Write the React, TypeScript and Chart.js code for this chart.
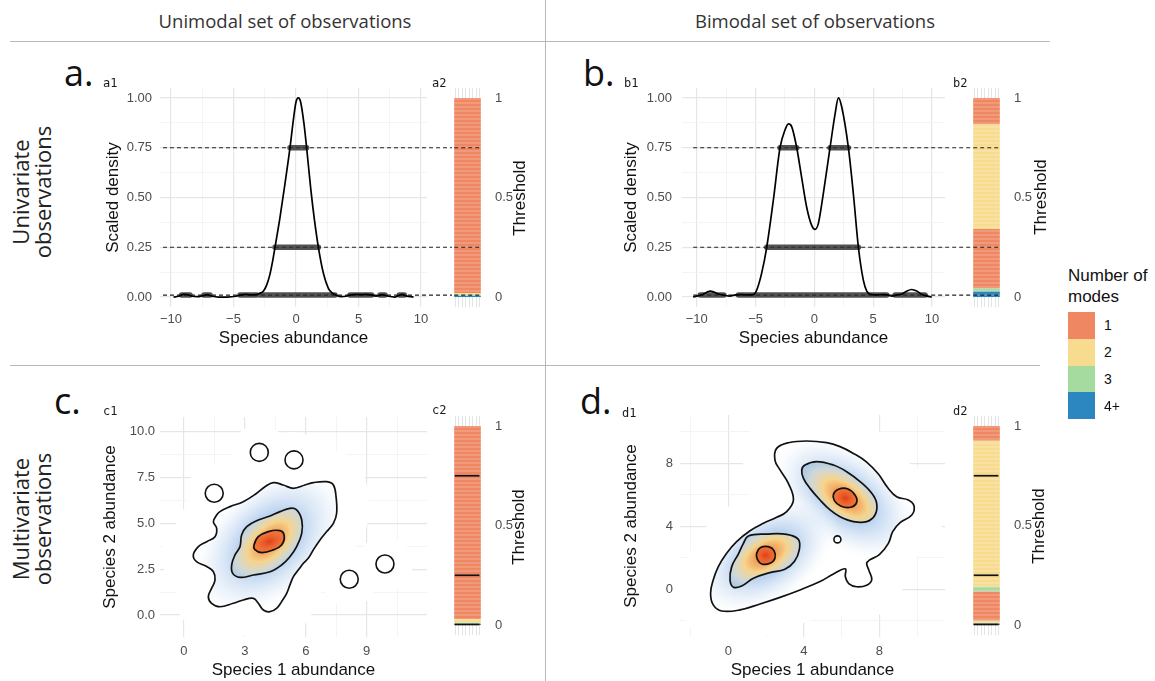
import React, { useEffect, useRef } from 'react';
import { Chart, registerables } from 'chart.js';

Chart.register(...registerables);

const SANS = "'Liberation Sans', Arial, Helvetica, sans-serif";
const HUMAN = "'Open Sans', 'Noto Sans', sans-serif";
const MONO = "'DejaVu Sans Mono', monospace";
const TICK = '#4D4D4D';
Chart.defaults.font.family = SANS;

// ---------------- legend / modes ----------------
const modeLabels = ['1', '2', '3', '4+'];
const modeColors = ['#EE8762', '#F7DC8F', '#A6DBA0', '#2C86C0'];

// ---------------- a1 : unimodal univariate density ----------------
const a1X = [-9.8, -9.4, -9.0, -8.7, -8.3, -7.9, -7.5, -7.1, -6.7, -6.2, -5.5, -4.8, -4.4, -4.0, -3.6, -3.2, -2.9, -2.6, -2.35, -2.1, -1.9, -1.68, -1.28, -0.88, -0.48, -0.21, 0.0, 0.19, 0.37, 0.64, 0.85, 1.17, 1.47, 1.79, 2.19, 2.59, 2.9, 3.2, 3.6, 4.0, 4.4, 4.8, 5.2, 5.6, 6.0, 6.4, 6.9, 7.4, 7.9, 8.2, 8.5, 8.8, 9.4];
const a1Y = [0, 0.004, 0.013, 0.012, 0.004, 0.002, 0.006, 0.012, 0.004, 0, 0, 0.004, 0.011, 0.013, 0.011, 0.012, 0.018, 0.03, 0.06, 0.11, 0.17, 0.25, 0.4, 0.57, 0.75, 0.89, 0.98, 1.0, 0.98, 0.87, 0.75, 0.55, 0.39, 0.25, 0.12, 0.044, 0.02, 0.01, 0.002, 0.004, 0.011, 0.013, 0.012, 0.013, 0.011, 0.005, 0.012, 0.004, 0, 0.008, 0.013, 0.006, 0];
const a1Runs075 = [[-0.48, 0.85]];
const a1Runs025 = [[-1.68, 1.79]];
const a1Runs001 = [[-9.15, -8.48], [-7.36, -6.88], [-4.48, -3.15], [-2.88, 3.12], [4.32, 6.05], [6.72, 7.12], [8.27, 8.67]];
const a1Dash = [-10.64, 12.48];

// ---------------- b1 : bimodal univariate density ----------------
const b1X = [-10.3, -9.9, -9.5, -9.2, -8.85, -8.5, -8.1, -7.7, -7.2, -6.7, -6.2, -5.7, -5.2, -4.9, -4.48, -4.05, -3.48, -2.92, -2.49, -2.21, -1.93, -1.5, -1.08, -0.65, -0.23, 0.06, 0.34, 0.76, 1.33, 1.76, 2.04, 2.32, 2.89, 3.31, 3.74, 4.16, 4.45, 4.87, 5.3, 5.8, 6.2, 6.6, 7.0, 7.4, 7.8, 8.27, 8.7, 9.1, 9.5, 9.97];
const b1Y = [0, 0.006, 0.013, 0.022, 0.03, 0.024, 0.014, 0.01, 0.005, 0.011, 0.012, 0.011, 0.012, 0.035, 0.12, 0.25, 0.49, 0.75, 0.84, 0.87, 0.856, 0.75, 0.6, 0.45, 0.36, 0.34, 0.37, 0.52, 0.75, 0.92, 1.0, 0.956, 0.75, 0.52, 0.25, 0.085, 0.03, 0.012, 0.011, 0.012, 0.011, 0.005, 0.011, 0.014, 0.028, 0.038, 0.03, 0.014, 0.006, 0];
const b1Runs075 = [[-2.92, -1.5], [1.33, 2.89]];
const b1Runs025 = [[-4.05, 3.74]];
const b1Runs001 = [[-9.7, -7.7], [-6.46, 6.15], [6.86, 9.4]];
const b1Dash = [-10.3, 13.32];

const densityLevels = [0.75, 0.25, 0.01];
const densXTicks = [-10, -7.5, -5, -2.5, 0, 2.5, 5, 7.5, 10];
const densXLabels = ['\u221210', '', '\u22125', '', '0', '', '5', '', '10'];
const densYTicks = [0, 0.125, 0.25, 0.375, 0.5, 0.625, 0.75, 0.875, 1];
const densYLabels = ['0.00', '', '0.25', '', '0.50', '', '0.75', '', '1.00'];

// ---------------- c1 : unimodal bivariate density contours ----------------
const c1OuterX = [1.77, 2.27, 2.92, 3.58, 3.99, 4.4, 4.89, 5.39, 5.96, 6.37, 7.03, 7.36, 7.49, 7.52, 7.36, 7.03, 6.7, 6.37, 6.12, 5.88, 5.63, 5.39, 5.22, 5.06, 4.81, 4.56, 4.24, 3.91, 3.66, 3.42, 2.92, 2.43, 1.77, 1.36, 1.2, 1.36, 1.53, 1.45, 1.12, 0.62, 0.46, 0.71, 1.12, 1.53, 1.61, 1.45, 1.61];
const c1OuterY = [5.64, 5.91, 6.18, 6.64, 7.0, 7.22, 7.09, 6.91, 7.09, 7.22, 7.27, 7.09, 6.45, 5.55, 5.0, 4.55, 4.09, 3.55, 3.09, 2.82, 2.45, 2.09, 1.64, 1.18, 0.73, 0.36, 0.18, 0.27, 0.64, 0.91, 0.82, 0.64, 0.45, 0.64, 1.0, 1.45, 1.91, 2.36, 2.64, 2.91, 3.27, 3.73, 4.0, 4.27, 4.73, 5.09, 5.45];
const c1MidX = [4.73, 5.22, 5.55, 5.8, 5.8, 5.55, 5.22, 4.81, 4.24, 3.42, 2.76, 2.4, 2.35, 2.51, 2.76, 2.84, 3.09, 3.66, 4.24];
const c1MidY = [5.64, 5.82, 5.73, 5.18, 4.45, 3.73, 3.18, 2.73, 2.36, 2.18, 2.05, 2.27, 2.73, 3.27, 3.73, 4.36, 4.82, 5.18, 5.4];
const c1InnerX = [3.45, 3.66, 4.15, 4.73, 4.94, 4.81, 4.4, 3.83, 3.48];
const c1InnerY = [3.82, 4.27, 4.55, 4.6, 4.31, 3.82, 3.55, 3.4, 3.58];
const c1BlobX = [1.49, 3.71, 5.42, 8.14, 9.9];
const c1BlobY = [6.64, 8.87, 8.46, 1.95, 2.78];
const c1PeakX = [4.2];
const c1PeakY = [4.0];
const c1XTicks = [0, 1.5, 3, 4.5, 6, 7.5, 9, 10.5];
const c1XLabels = ['0', '', '3', '', '6', '', '9', ''];
const c1YTicks = [0, 1.25, 2.5, 3.75, 5, 6.25, 7.5, 8.75, 10];
const c1YLabels = ['0.0', '', '2.5', '', '5.0', '', '7.5', '', '10.0'];

// ---------------- d1 : bimodal bivariate density contours ----------------
const d1OuterX = [2.56, 3.18, 4.15, 5.21, 5.92, 6.63, 7.33, 7.95, 8.43, 8.92, 9.54, 9.84, 9.72, 9.1, 8.71, 8.48, 8.0, 7.35, 7.45, 7.6, 7.33, 6.8, 6.38, 6.2, 6.2, 5.57, 4.86, 3.8, 2.74, 1.68, 0.62, -0.35, -0.8, -0.94, -0.8, -0.53, -0.09, 0.44, 1.15, 1.86, 2.56, 3.09, 3.45, 3.18, 2.74, 2.47];
const d1OuterY = [8.95, 9.31, 9.42, 9.31, 9.06, 8.63, 8.08, 7.32, 6.48, 5.88, 5.67, 5.29, 4.72, 4.23, 3.66, 2.92, 2.2, 1.72, 1.2, 0.62, 0.26, 0.16, 0.36, 0.8, 1.3, 0.97, 0.49, -0.04, -0.51, -0.93, -1.31, -1.38, -0.99, -0.25, 0.59, 1.44, 2.29, 3.03, 3.72, 4.19, 4.57, 4.93, 5.67, 6.73, 7.58, 8.21];
const d1MidUpX = [4.06, 4.68, 5.57, 6.27, 6.98, 7.6, 7.86, 7.77, 7.33, 6.63, 5.92, 5.39, 4.86, 4.33, 3.98, 3.89];
const d1MidUpY = [7.89, 8.11, 7.89, 7.47, 6.84, 6.1, 5.46, 4.72, 4.3, 4.3, 4.61, 5.04, 5.67, 6.41, 7.05, 7.58];
const d1MidLowX = [1.06, 2.03, 3.09, 3.71, 3.76, 3.5, 3.0, 2.21, 1.33, 0.71, 0.27, 0.09, 0.18, 0.53, 0.8];
const d1MidLowY = [3.39, 3.51, 3.49, 3.17, 2.5, 1.76, 1.27, 1.06, 0.7, 0.21, 0.13, 0.59, 1.44, 2.24, 2.92];
const d1InUpX = [5.57, 5.83, 6.31, 6.71, 6.8, 6.48, 5.95, 5.62];
const d1InUpY = [6.03, 6.35, 6.39, 5.99, 5.52, 5.21, 5.29, 5.63];
const d1InLowX = [1.5, 1.71, 2.12, 2.42, 2.47, 2.21, 1.77, 1.54];
const d1InLowY = [2.29, 2.65, 2.71, 2.46, 1.97, 1.65, 1.61, 1.9];
const d1BlobX = [5.78];
const d1BlobY = [3.17];
const d1PeakX = [6.2, 1.98];
const d1PeakY = [5.8, 2.16];
const d1Ticks = [-2, 0, 2, 4, 6, 8, 10];
const d1Labels = ['', '0', '', '4', '', '8', ''];

// ---------------- threshold bars (number of modes per threshold) ----------------
const a2Breaks = [0, 0.006, 0.012, 0.02, 1];
const a2Modes = [4, 3, 2, 1];
const b2Breaks = [0, 0.028, 0.044, 0.342, 0.868, 1];
const b2Modes = [4, 3, 1, 2, 1];
const c2Breaks = [0, 0.006, 0.012, 0.03, 1];
const c2Modes = [4, 3, 2, 1];
const d2Breaks = [0, 0.008, 0.022, 0.168, 0.192, 0.926, 1];
const d2Modes = [4, 2, 1, 3, 2, 1];
const contourLevels = [0.75, 0.25, 0.003];
const barTicks = [0, 0.5, 1];
const barTickLabels = ['0', '0.5', '1'];
const barGridTicks = [0.1, 0.233, 0.367, 0.5, 0.633, 0.767, 0.9];

// ---------------- helpers ----------------
type Box = { l: number; t: number; w: number; h: number };
type Spot = { x: number; y: number; rx: number; ry: number; rot: number; stops: [number, string][] };

const loopPlugin = {
  id: 'closedLoops',
  afterDatasetUpdate(chart: any, args: any) {
    const ds = chart.data.datasets[args.index];
    if (ds && ds.closed && args.meta.dataset) {
      args.meta.dataset._loop = true;
      args.meta.dataset._fullLoop = true;
    }
  },
};

const noPad = (s: any) => { s.paddingTop = 0; s.paddingBottom = 0; s.paddingLeft = 0; s.paddingRight = 0; };

function linAxis(o: { min: number; max: number; ticks: number[]; labels: string[]; title?: string; pad: number; size: number; horizontal: boolean }) {
  return {
    type: 'linear',
    min: o.min,
    max: o.max,
    afterBuildTicks: (s: any) => { s.ticks = o.ticks.map((v) => ({ value: v })); },
    afterFit: (s: any) => { if (o.horizontal) s.height = o.size; else s.width = o.size; noPad(s); },
    ticks: { autoSkip: false, maxRotation: 0, minRotation: 0, padding: o.pad, color: TICK, font: { family: SANS, size: 13 }, callback: (_v: any, i: number) => o.labels[i] },
    grid: { drawTicks: false, color: (c: any) => (o.labels[c.index] ? '#E6E6E6' : '#F1F1F1'), lineWidth: (c: any) => (o.labels[c.index] ? 1.2 : 0.8) },
    border: { display: false },
    title: { display: !!o.title, text: o.title, color: '#111', font: { family: SANS, size: 17 }, padding: 0 },
  };
}

const pts = (xs: number[], ys: number[]) => xs.map((x, i) => ({ x, y: ys[i] }));

const baseOptions = (pad: any) => ({
  animation: false, responsive: false, devicePixelRatio: 1,
  layout: { padding: pad, autoPadding: false },
  plugins: { legend: { display: false }, tooltip: { enabled: false } },
});

function densityConfig(p: { x: number[]; y: number[]; xMin: number; xMax: number; runs: number[][][]; dash: number[]; padRight: number; yWidth: number; yPad: number }) {
  const datasets: any[] = [
    { data: pts(p.x, p.y), borderColor: '#000', borderWidth: 1.7, pointRadius: 0, cubicInterpolationMode: 'monotone', fill: false, order: 0 },
  ];
  densityLevels.forEach((lv, k) => {
    datasets.push({ data: [{ x: p.dash[0], y: lv }, { x: p.dash[1], y: lv }], borderColor: '#222', borderWidth: 1.2, borderDash: [4, 3], pointRadius: 0, clip: false, fill: false, order: 3 });
    const segs: any[] = [];
    p.runs[k].forEach(([a, b]) => segs.push({ x: a, y: lv }, { x: b, y: lv }, { x: b, y: null }));
    datasets.push({ data: segs, borderColor: 'rgba(45,45,45,0.82)', borderWidth: 5.5, borderCapStyle: 'round', pointRadius: 0, spanGaps: false, fill: false, order: 1 });
  });
  return {
    type: 'line',
    data: { datasets },
    options: {
      ...baseOptions({ top: 4, right: p.padRight, left: 0, bottom: 0 }),
      scales: {
        x: linAxis({ min: p.xMin, max: p.xMax, ticks: densXTicks, labels: densXLabels, title: 'Species abundance', pad: 5, size: 42, horizontal: true }),
        y: linAxis({ min: -0.05, max: 1.05, ticks: densYTicks, labels: densYLabels, title: 'Scaled density', pad: p.yPad, size: p.yWidth, horizontal: false }),
      },
    },
  };
}

function makeGlow(base: string, spots: Spot[]) {
  let key = '';
  let pat: any = null;
  return (ctx: any) => {
    const chart = ctx.chart;
    const xs = chart.scales && chart.scales.x;
    const ys = chart.scales && chart.scales.y;
    const ca = chart.chartArea;
    if (!xs || !ys || !ca) return base;
    const k = `${ca.left},${ca.top},${ca.right},${ca.bottom}`;
    if (k === key && pat) return pat;
    const cv = chart.canvas as HTMLCanvasElement;
    const off = document.createElement('canvas');
    off.width = cv.width; off.height = cv.height;
    const g = off.getContext('2d')!;
    g.fillStyle = base; g.fillRect(0, 0, off.width, off.height);
    for (const s of spots) {
      const px = xs.getPixelForValue(s.x);
      const py = ys.getPixelForValue(s.y);
      if (!isFinite(px) || !isFinite(py)) continue;
      g.save(); g.translate(px, py); g.rotate(s.rot); g.scale(1, s.ry / s.rx);
      const gr = g.createRadialGradient(0, 0, 0, 0, 0, s.rx);
      s.stops.forEach(([o, c]) => gr.addColorStop(o, c));
      g.fillStyle = gr; g.fillRect(-s.rx, -s.rx, 2 * s.rx, 2 * s.rx);
      g.restore();
    }
    pat = chart.ctx.createPattern(off, 'no-repeat');
    key = k;
    return pat;
  };
}

const outerStops: [number, string][] = [[0, 'rgba(150,188,230,0.95)'], [0.35, 'rgba(178,205,237,0.85)'], [0.6, 'rgba(218,231,246,0.55)'], [0.85, 'rgba(255,255,255,0)'], [1, 'rgba(255,255,255,0)']];
const midStops: [number, string][] = [[0, '#EE6529'], [0.2, '#F2A059'], [0.42, '#F6D48C'], [0.66, 'rgba(218,222,214,0.75)'], [1, 'rgba(164,195,230,0)']];
const innerStops: [number, string][] = [[0, '#E03E18'], [1, 'rgba(242,122,58,0)']];

type Loop = { x: number[]; y: number[] };
function contourConfig(p: {
  xMin: number; xMax: number; yMin: number; yMax: number; xTicks: number[]; xLabels: string[]; yTicks: number[]; yLabels: string[];
  yWidth: number; yPad: number; padRight: number;
  outer: Loop; mids: Loop[]; inners: Loop[]; blobX: number[]; blobY: number[]; blobR: number; haloR: number;
  outerSpots: Spot[]; midSpots: Spot[][]; innerSpots: Spot[][];
}) {
  const datasets: any[] = [];
  const lineBase = { pointRadius: 0, pointBackgroundColor: 'transparent', pointBorderColor: 'transparent', tension: 0.4, borderJoinStyle: 'round' };
  datasets.push({ ...lineBase, data: pts(p.outer.x, p.outer.y), closed: true, borderColor: '#FFFFFF', borderWidth: 64, fill: false, order: 50 });
  datasets.push({ data: pts(p.blobX, p.blobY), showLine: false, pointRadius: p.haloR, pointBackgroundColor: '#FFFFFF', pointBorderWidth: 0, order: 49 });
  datasets.push({ ...lineBase, data: pts(p.outer.x, p.outer.y), closed: true, borderColor: '#111', borderWidth: 1.7, fill: 'shape', backgroundColor: makeGlow('#FFFFFF', p.outerSpots), order: 40 });
  datasets.push({ data: pts(p.blobX, p.blobY), showLine: false, pointRadius: p.blobR, pointBackgroundColor: '#FFFFFF', pointBorderColor: '#111', pointBorderWidth: 1.6, order: 39 });
  p.mids.forEach((m, i) => datasets.push({ ...lineBase, data: pts(m.x, m.y), closed: true, borderColor: '#111', borderWidth: 1.7, fill: 'shape', backgroundColor: makeGlow('#A4C3E6', p.midSpots[i]), order: 30 }));
  p.inners.forEach((m, i) => datasets.push({ ...lineBase, data: pts(m.x, m.y), closed: true, borderColor: '#111', borderWidth: 1.7, fill: 'shape', backgroundColor: makeGlow('#F27A3C', p.innerSpots[i]), order: 20 }));
  return {
    type: 'line',
    data: { datasets },
    plugins: [loopPlugin],
    options: {
      ...baseOptions({ top: 4, right: p.padRight, left: 0, bottom: 0 }),
      scales: {
        x: linAxis({ min: p.xMin, max: p.xMax, ticks: p.xTicks, labels: p.xLabels, title: 'Species 1 abundance', pad: 7, size: 44, horizontal: true }),
        y: linAxis({ min: p.yMin, max: p.yMax, ticks: p.yTicks, labels: p.yLabels, title: 'Species 2 abundance', pad: p.yPad, size: p.yWidth, horizontal: false }),
      },
    },
  };
}

function stripe(target: HTMLCanvasElement, color: string) {
  const c = document.createElement('canvas');
  c.width = 4; c.height = 4;
  const g = c.getContext('2d')!;
  g.fillStyle = color; g.fillRect(0, 0, 4, 4);
  g.fillStyle = 'rgba(255,255,255,0.16)'; g.fillRect(0, 2, 4, 2);
  return target.getContext('2d')!.createPattern(c, 'repeat');
}

function barConfig(canvas: HTMLCanvasElement, p: { breaks: number[]; modes: number[]; levels: number[]; dashed: boolean; lineStart: number; lineEnd: number }) {
  const tiles = p.modes.map((m, i) => ({
    type: 'bar', data: [[p.breaks[i], p.breaks[i + 1]]], backgroundColor: stripe(canvas, modeColors[m - 1]), borderWidth: 0, grouped: false,
    barPercentage: 0.86, categoryPercentage: 1, order: 5,
  }));
  const lines = p.levels.map((lv) => ({
    type: 'line', xAxisID: 'xl', data: [{ x: p.lineStart, y: lv }, { x: p.lineEnd, y: lv }],
    borderColor: p.dashed ? '#222' : '#111', borderWidth: p.dashed ? 1.2 : 1.7, borderDash: p.dashed ? [4, 3] : [], pointRadius: 0, fill: false, order: 0,
  }));
  return {
    type: 'bar',
    data: { labels: ['t'], datasets: [...tiles, ...lines] },
    options: {
      ...baseOptions({ top: 4, bottom: 4, left: 0, right: 0 }),
      scales: {
        x: { type: 'category', display: false, offset: true },
        xl: {
          type: 'linear', min: 0, max: 1, position: 'bottom', display: true,
          afterBuildTicks: (s: any) => { s.ticks = barGridTicks.map((v) => ({ value: v })); },
          afterFit: (s: any) => { s.height = 0; noPad(s); },
          ticks: { display: false }, grid: { drawTicks: false, color: '#E4E4E4', lineWidth: 1 }, border: { display: false },
        },
        y: {
          type: 'linear', position: 'right', min: -0.05, max: 1.05,
          afterBuildTicks: (s: any) => { s.ticks = barTicks.map((v) => ({ value: v })); },
          afterFit: (s: any) => { s.width = 30; noPad(s); },
          ticks: { padding: 4, color: TICK, font: { family: SANS, size: 13 }, callback: (_v: any, i: number) => barTickLabels[i] },
          grid: { display: false }, border: { display: false },
        },
      },
    },
  };
}

function ChartCanvas({ box, make }: { box: Box; make: (c: HTMLCanvasElement) => any }) {
  const ref = useRef<HTMLCanvasElement | null>(null);
  useEffect(() => {
    if (!ref.current) return;
    const chart = new Chart(ref.current, make(ref.current));
    return () => chart.destroy();
  }, []);
  return (
    <div style={{ position: 'absolute', left: box.l, top: box.t, width: box.w, height: box.h }}>
      <canvas ref={ref} width={box.w} height={box.h} style={{ display: 'block', width: box.w, height: box.h }} />
    </div>
  );
}

const Txt = ({ x, y, rot = 0, style, children }: any) => (
  <div style={{ position: 'absolute', left: x, top: y, transform: `translate(-50%, -50%) rotate(${rot}deg)`, whiteSpace: 'nowrap', ...style }}>{children}</div>
);
const Left = ({ x, y, style, children }: any) => (
  <div style={{ position: 'absolute', left: x, top: y, transform: 'translateY(-50%)', whiteSpace: 'nowrap', ...style }}>{children}</div>
);

const spot = (x: number, y: number, rx: number, ry: number, rot: number, stops: [number, string][]): Spot => ({ x, y, rx, ry, rot, stops });

export default function App() {
  const colTitle = { fontFamily: HUMAN, fontSize: 18.5, color: '#333' };
  const rowTitle = { fontFamily: HUMAN, fontSize: 22, lineHeight: '22px', color: '#222', textAlign: 'center' as const };
  const big = { position: 'absolute' as const, fontFamily: HUMAN, fontSize: 36, lineHeight: '36px', color: '#111' };
  const small = { fontFamily: MONO, fontSize: 12, color: '#1A1A1A' };
  const thr = { fontFamily: SANS, fontSize: 17, color: '#111' };

  return (
    <div style={{ position: 'fixed', left: 0, top: 0, width: 1155, height: 681, overflow: 'hidden', background: '#FFFFFF' }}>
      {/* separators */}
      <div style={{ position: 'absolute', left: 545, top: 0, width: 1, height: 681, background: '#B8B8B8' }} />
      <div style={{ position: 'absolute', left: 10, top: 41, width: 1040, height: 1, background: '#B8B8B8' }} />
      <div style={{ position: 'absolute', left: 10, top: 365, width: 1030, height: 1, background: '#B8B8B8' }} />

      {/* charts */}
      <ChartCanvas box={{ l: 103, t: 84, w: 349, h: 265 }} make={() => densityConfig({ x: a1X, y: a1Y, xMin: -10.88, xMax: 10.48, runs: [a1Runs075, a1Runs025, a1Runs001], dash: a1Dash, padRight: 25, yWidth: 57, yPad: 8 })} />
      <ChartCanvas box={{ l: 452, t: 84, w: 61, h: 227 }} make={(c) => barConfig(c, { breaks: a2Breaks, modes: a2Modes, levels: densityLevels, dashed: true, lineStart: 0, lineEnd: 0.94 })} />
      <ChartCanvas box={{ l: 621, t: 84, w: 350, h: 265 }} make={() => densityConfig({ x: b1X, y: b1Y, xMin: -11.25, xMax: 11.1, runs: [b1Runs075, b1Runs025, b1Runs001], dash: b1Dash, padRight: 26, yWidth: 61, yPad: 10 })} />
      <ChartCanvas box={{ l: 971, t: 84, w: 61, h: 227 }} make={(c) => barConfig(c, { breaks: b2Breaks, modes: b2Modes, levels: densityLevels, dashed: true, lineStart: 0, lineEnd: 0.94 })} />

      <ChartCanvas box={{ l: 100, t: 413, w: 352, h: 268 }} make={() => contourConfig({
        xMin: -1.18, xMax: 11.97, yMin: -1.2, yMax: 10.8, xTicks: c1XTicks, xLabels: c1XLabels, yTicks: c1YTicks, yLabels: c1YLabels,
        yWidth: 60, yPad: 5, padRight: 25,
        outer: { x: c1OuterX, y: c1OuterY }, mids: [{ x: c1MidX, y: c1MidY }], inners: [{ x: c1InnerX, y: c1InnerY }],
        blobX: c1BlobX, blobY: c1BlobY, blobR: 9, haloR: 28,
        outerSpots: [spot(c1PeakX[0], c1PeakY[0], 110, 70, -0.75, outerStops)],
        midSpots: [[spot(c1PeakX[0], c1PeakY[0], 62, 34, -0.75, midStops)]],
        innerSpots: [[spot(c1PeakX[0], c1PeakY[0], 22, 13, -0.3, innerStops)]],
      })} />
      <ChartCanvas box={{ l: 452, t: 412, w: 61, h: 227 }} make={(c) => barConfig(c, { breaks: c2Breaks, modes: c2Modes, levels: contourLevels, dashed: false, lineStart: 0.02, lineEnd: 0.95 })} />
      <ChartCanvas box={{ l: 621, t: 411, w: 350, h: 270 }} make={() => contourConfig({
        xMin: -2.56, xMax: 11.48, yMin: -3.03, yMax: 11.07, xTicks: d1Ticks, xLabels: d1Labels, yTicks: d1Ticks, yLabels: d1Labels,
        yWidth: 59, yPad: 7, padRight: 26,
        outer: { x: d1OuterX, y: d1OuterY }, mids: [{ x: d1MidUpX, y: d1MidUpY }, { x: d1MidLowX, y: d1MidLowY }],
        inners: [{ x: d1InUpX, y: d1InUpY }, { x: d1InLowX, y: d1InLowY }],
        blobX: d1BlobX, blobY: d1BlobY, blobR: 3.5, haloR: 0,
        outerSpots: [spot(d1PeakX[0], d1PeakY[0], 100, 60, 0.64, outerStops), spot(d1PeakX[1], d1PeakY[1], 95, 58, -0.59, outerStops)],
        midSpots: [[spot(d1PeakX[0], d1PeakY[0], 62, 32, 0.64, midStops)], [spot(d1PeakX[1], d1PeakY[1], 56, 32, -0.55, midStops)]],
        innerSpots: [[spot(d1PeakX[0], d1PeakY[0], 17, 14, 0.3, innerStops)], [spot(d1PeakX[1], d1PeakY[1], 16, 14, 0, innerStops)]],
      })} />
      <ChartCanvas box={{ l: 971, t: 412, w: 61, h: 227 }} make={(c) => barConfig(c, { breaks: d2Breaks, modes: d2Modes, levels: contourLevels, dashed: false, lineStart: 0.02, lineEnd: 0.95 })} />

      {/* column & row titles */}
      <Txt x={285} y={20} style={colTitle}>Unimodal set of observations</Txt>
      <Txt x={815} y={20} style={colTitle}>Bimodal set of observations</Txt>
      <Txt x={31} y={192} rot={-90} style={rowTitle}>Univariate<br />observations</Txt>
      <Txt x={31} y={519} rot={-90} style={rowTitle}>Multivariate<br />observations</Txt>

      {/* panel letters */}
      <div style={{ ...big, left: 64, top: 55 }}>a.</div>
      <div style={{ ...big, left: 583, top: 55 }}>b.</div>
      <div style={{ ...big, left: 54, top: 383 }}>c.</div>
      <div style={{ ...big, left: 580, top: 383 }}>d.</div>
      <Left x={103} y={82.5} style={small}>a1</Left>
      <Left x={432} y={82.5} style={small}>a2</Left>
      <Left x={624} y={82.5} style={small}>b1</Left>
      <Left x={953} y={82.5} style={small}>b2</Left>
      <Left x={103} y={411} style={small}>c1</Left>
      <Left x={432} y={410} style={small}>c2</Left>
      <Left x={622} y={412.5} style={small}>d1</Left>
      <Left x={953} y={411} style={small}>d2</Left>

      {/* threshold axis titles */}
      <Txt x={519.5} y={197.5} rot={-90} style={thr}>Threshold</Txt>
      <Txt x={1041} y={197} rot={-90} style={thr}>Threshold</Txt>
      <Txt x={518.5} y={526.5} rot={-90} style={thr}>Threshold</Txt>
      <Txt x={1038.5} y={526} rot={-90} style={thr}>Threshold</Txt>

      {/* legend */}
      <div style={{ position: 'absolute', left: 1068, top: 265, fontFamily: SANS, fontSize: 17, lineHeight: '21px', color: '#111', whiteSpace: 'nowrap' }}>Number of<br />modes</div>
      {modeLabels.map((lab, i) => (
        <React.Fragment key={lab}>
          <div style={{ position: 'absolute', left: 1068, top: 312 + i * 26.75, width: 27, height: 26.75, background: modeColors[i] }} />
          <Left x={1104} y={325.4 + i * 26.75} style={{ fontFamily: SANS, fontSize: 14, color: '#111' }}>{lab}</Left>
        </React.Fragment>
      ))}
    </div>
  );
}
